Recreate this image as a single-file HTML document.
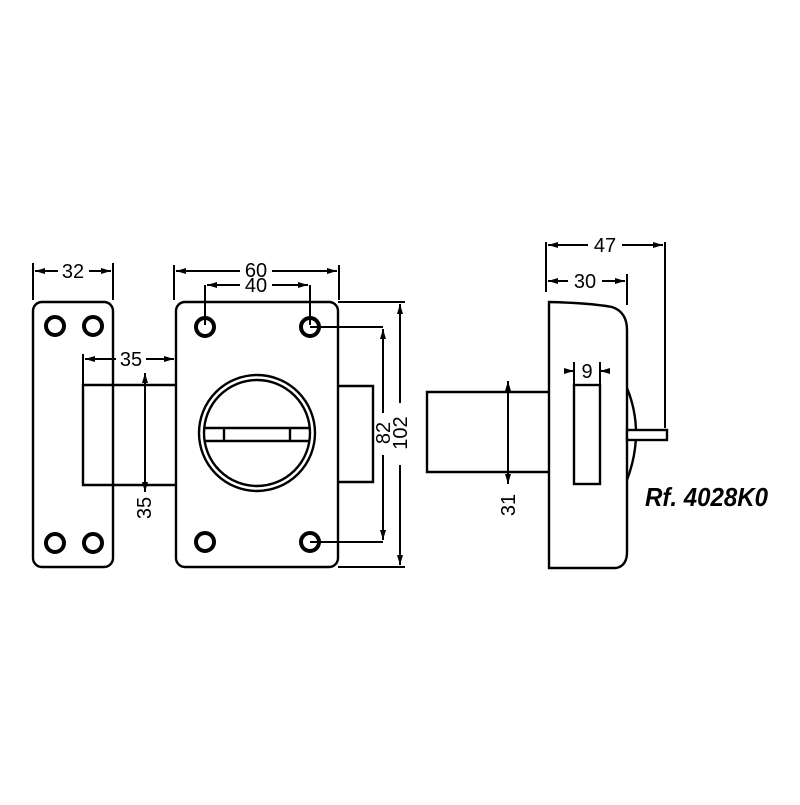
<!DOCTYPE html>
<html><head><style>html,body{margin:0;padding:0;background:#fff}</style></head>
<body>
<svg width="800" height="800" viewBox="0 0 800 800" xmlns="http://www.w3.org/2000/svg">
<defs>
<marker id="a" viewBox="0 0 10 6" refX="10" refY="3" markerWidth="10" markerHeight="6" markerUnits="userSpaceOnUse" orient="auto-start-reverse"><path d="M0,0L10,3L0,6z" fill="#000"/></marker>
</defs>
<rect width="800" height="800" fill="#fff"/>
<g fill="none" stroke="#000" stroke-width="2.4">
<rect x="33" y="302" width="80" height="265" rx="9"/>
<polyline points="176,385 83,385 83,485 176,485"/>
<rect x="176" y="302" width="162" height="265" rx="9"/>
<polyline points="338,386 373,386 373,482 338,482"/>
<circle cx="257" cy="433" r="58"/>
<circle cx="257" cy="433" r="53"/>
<line x1="205" y1="428" x2="309" y2="428"/>
<line x1="205" y1="441" x2="309" y2="441"/>
<line x1="224" y1="428" x2="224" y2="441"/>
<line x1="290" y1="428" x2="290" y2="441"/>
</g>
<g fill="none" stroke="#000" stroke-width="4">
<circle cx="55" cy="326" r="9"/><circle cx="93" cy="326" r="9"/>
<circle cx="55" cy="543" r="9"/><circle cx="93" cy="543" r="9"/>
<circle cx="205" cy="327" r="9"/><circle cx="310" cy="327" r="9"/>
<circle cx="205" cy="542" r="9"/><circle cx="310" cy="542" r="9"/>
</g>
<g fill="none" stroke="#000" stroke-width="2">
<line x1="33" y1="263" x2="33" y2="300"/><line x1="113" y1="263" x2="113" y2="300"/>
<line x1="35" y1="271" x2="58" y2="271" marker-start="url(#a)"/><line x1="89" y1="271" x2="111" y2="271" marker-end="url(#a)"/>
<line x1="174" y1="265" x2="174" y2="300"/><line x1="339" y1="265" x2="339" y2="300"/>
<line x1="176" y1="271" x2="240" y2="271" marker-start="url(#a)"/><line x1="272" y1="271" x2="337" y2="271" marker-end="url(#a)"/>
<line x1="205" y1="285" x2="205" y2="325"/><line x1="310" y1="285" x2="310" y2="325"/>
<line x1="207" y1="285" x2="240" y2="285" marker-start="url(#a)"/><line x1="272" y1="285" x2="308" y2="285" marker-end="url(#a)"/>
<line x1="83" y1="354" x2="83" y2="385"/>
<line x1="85" y1="359" x2="116" y2="359" marker-start="url(#a)"/><line x1="146" y1="359" x2="174" y2="359" marker-end="url(#a)"/>
<line x1="145" y1="373" x2="145" y2="492" marker-start="url(#a)" marker-end="url(#a)"/>
<line x1="310" y1="327" x2="383" y2="327"/><line x1="310" y1="542" x2="383" y2="542"/>
<line x1="383" y1="329" x2="383" y2="413" marker-start="url(#a)"/><line x1="383" y1="455" x2="383" y2="540" marker-end="url(#a)"/>
<line x1="338" y1="302" x2="405" y2="302"/><line x1="338" y1="567" x2="405" y2="567"/>
<line x1="400" y1="304" x2="400" y2="403" marker-start="url(#a)"/><line x1="400" y1="465" x2="400" y2="565" marker-end="url(#a)"/>
</g>
<g fill="none" stroke="#000" stroke-width="2.4">
<path d="M549,302 L549,568 L616,568 Q627,566 627,552 L627,330 Q627,312 612,307 Q590,303 549,302 Z"/>
<polyline points="549,392 427,392 427,472 549,472"/>
<rect x="574" y="385" width="26" height="99"/>
<path d="M627,388 Q645,432 627,480"/>
<rect x="627" y="430" width="40" height="10" fill="#fff"/>
</g>
<g fill="none" stroke="#000" stroke-width="2">
<line x1="508" y1="381" x2="508" y2="484" marker-start="url(#a)" marker-end="url(#a)"/>
<line x1="574" y1="362" x2="574" y2="385"/><line x1="600" y1="362" x2="600" y2="385"/>
<line x1="564" y1="371" x2="574" y2="371" marker-end="url(#a)"/><line x1="610" y1="371" x2="600" y2="371" marker-end="url(#a)"/>
<line x1="546" y1="242" x2="546" y2="292"/><line x1="665" y1="242" x2="665" y2="428"/>
<line x1="548" y1="245" x2="588" y2="245" marker-start="url(#a)"/><line x1="622" y1="245" x2="663" y2="245" marker-end="url(#a)"/>
<line x1="627" y1="274" x2="627" y2="305"/>
<line x1="548" y1="281" x2="568" y2="281" marker-start="url(#a)"/><line x1="602" y1="281" x2="625" y2="281" marker-end="url(#a)"/>
</g>
<g font-family="Liberation Sans, sans-serif" font-size="20" fill="#000" text-anchor="middle">
<text x="73" y="278">32</text>
<text x="256" y="277">60</text>
<text x="256" y="292">40</text>
<text x="131" y="366">35</text>
<text transform="translate(151,508) rotate(-90)">35</text>
<text transform="translate(390,433) rotate(-90)">82</text>
<text transform="translate(407,433) rotate(-90)">102</text>
<text x="605" y="252">47</text>
<text x="585" y="288">30</text>
<text x="587" y="378">9</text>
<text transform="translate(515,505) rotate(-90)">31</text>
</g>
<text x="645" y="506" font-family="Liberation Sans, sans-serif" font-size="26" font-weight="bold" font-style="italic" textLength="123" lengthAdjust="spacingAndGlyphs">Rf.  4028K0</text>
</svg>
</body></html>
